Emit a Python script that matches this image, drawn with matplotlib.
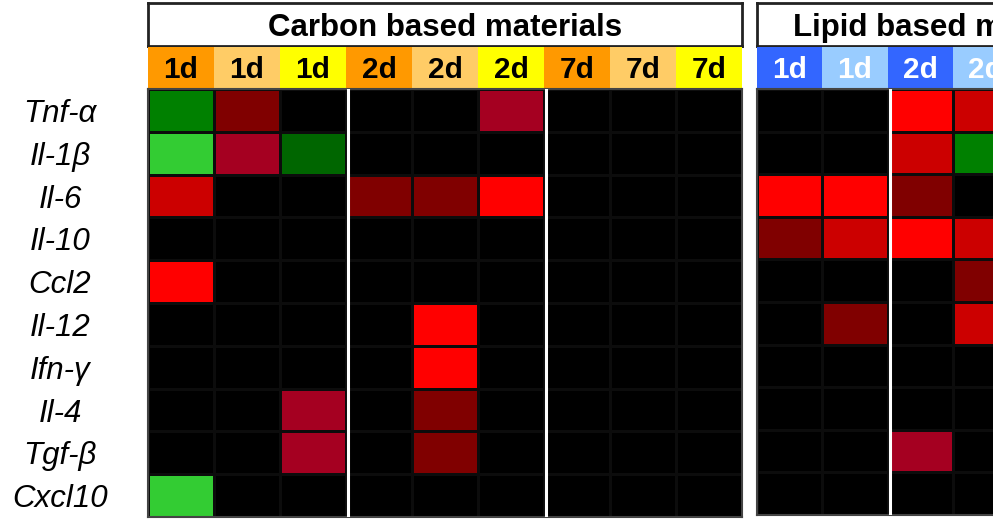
import numpy as np
import matplotlib
matplotlib.use("Agg")
import matplotlib.pyplot as plt
from matplotlib.colors import ListedColormap, BoundaryNorm

plt.rcParams["font.family"] = ["Liberation Sans", "DejaVu Sans"]

# Genes (rows) and sampling days (columns) for each material panel
genes = ["Tnf-α", "Il-1β", "Il-6", "Il-10", "Ccl2", "Il-12", "Ifn-γ", "Il-4", "Tgf-β", "Cxcl10"]

carbon_title = "Carbon based materials"
carbon_days = ["1d", "1d", "1d", "2d", "2d", "2d", "7d", "7d", "7d"]

lipid_title = "Lipid based materials"
lipid_days = ["1d", "1d", "2d", "2d"]

# Regulation class per gene and sample:
# negative = down-regulated (green), 0 = unchanged, positive = up-regulated (red)
carbon_levels = [
    [-2, 1, 0, 0, 0, 2, 0, 0, 0],
    [-3, 2, -1, 0, 0, 0, 0, 0, 0],
    [3, 0, 0, 1, 1, 4, 0, 0, 0],
    [0, 0, 0, 0, 0, 0, 0, 0, 0],
    [4, 0, 0, 0, 0, 0, 0, 0, 0],
    [0, 0, 0, 0, 4, 0, 0, 0, 0],
    [0, 0, 0, 0, 4, 0, 0, 0, 0],
    [0, 0, 2, 0, 1, 0, 0, 0, 0],
    [0, 0, 2, 0, 1, 0, 0, 0, 0],
    [-3, 0, 0, 0, 0, 0, 0, 0, 0],
]

lipid_levels = [
    [0, 0, 4, 3],
    [0, 0, 3, -2],
    [4, 4, 1, 0],
    [1, 3, 4, 3],
    [0, 0, 0, 1],
    [0, 1, 0, 3],
    [0, 0, 0, 0],
    [0, 0, 0, 0],
    [0, 0, 2, 0],
    [0, 0, 0, 0],
]

# Colour scale for the regulation classes -3 .. 4
level_colors = ["#33CC33", "#008000", "#006600", "#000000",
                "#800000", "#A50021", "#CC0000", "#FF0000"]
cmap = ListedColormap(level_colors)
norm = BoundaryNorm(np.arange(-3.5, 5.5, 1.0), cmap.N)

W, H = 993, 520
fig = plt.figure(figsize=(W / 100, H / 100), dpi=100)


def rect(x0, y_top, width, height):
    return [x0 / W, 1 - (y_top + height) / H, width / W, height / H]


def panel(x0, col_w, n_slots, title, days, day_colors, day_text_color,
          levels, separators, data_bottom, show_genes):
    width = col_w * n_slots

    # title box
    ax_t = fig.add_axes(rect(x0, 3, width, 43))
    ax_t.set_facecolor("white")
    ax_t.set_xticks([])
    ax_t.set_yticks([])
    for s in ax_t.spines.values():
        s.set_color("#222222")
        s.set_linewidth(2)
    ax_t.text(0.5, 0.42, title, ha="center", va="center",
              fontsize=22.5, fontweight="bold", transform=ax_t.transAxes)

    # day header strip
    ax_h = fig.add_axes(rect(x0, 47, width, 41))
    x = np.arange(len(days)) + 0.5
    ax_h.bar(x, 1, width=1, color=[day_colors[i % len(day_colors)] for i in range(len(days))],
             edgecolor="none")
    for xi, d in zip(x, days):
        ax_h.text(xi, 0.45, d, ha="center", va="center", fontsize=21.5,
                  fontweight="bold", color=day_text_color)
    ax_h.set_xlim(0, n_slots)
    ax_h.set_ylim(0, 1)
    ax_h.axis("off")

    # expression grid
    data = np.array(levels)
    nr, nc = data.shape
    ax_d = fig.add_axes(rect(x0, 89, width, data_bottom - 89))
    ax_d.pcolormesh(np.arange(nc + 1), np.arange(nr + 1), data, cmap=cmap,
                    norm=norm, edgecolors="#0c0c0c", linewidth=0.8)
    for sx in separators:
        ax_d.axvline(sx + 0.03, color="white", linewidth=2.2, zorder=3)
    ax_d.set_xlim(0, n_slots)
    ax_d.set_ylim(nr, 0)
    ax_d.set_xticks([])
    for s in ax_d.spines.values():
        s.set_color("#444444")
        s.set_linewidth(1.5)
    if show_genes:
        ax_d.set_yticks(np.arange(nr) + 0.5)
        ax_d.set_yticklabels(genes, fontsize=22.5, fontstyle="italic", ha="center")
        ax_d.tick_params(axis="y", length=0, pad=88 * 72 / 100)
    else:
        ax_d.set_yticks([])


panel(148, 66, 9, carbon_title, carbon_days,
      ["#FF9900", "#FFCC66", "#FFFF00"], "black",
      carbon_levels, [3, 6], 517, True)

panel(757, 65.3, 6, lipid_title, lipid_days,
      ["#3366FF", "#99CCFF"], "white",
      lipid_levels, [2], 515, False)

fig.savefig("out.png", dpi=100)
